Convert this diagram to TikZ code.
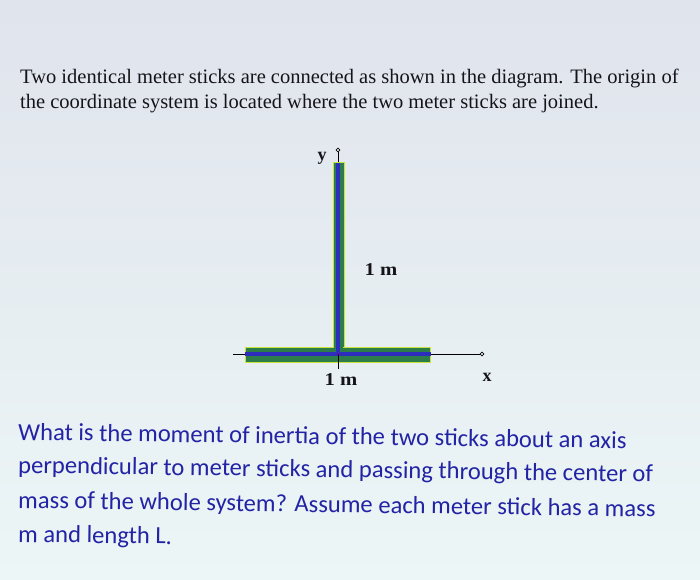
\documentclass[tikz,border=0pt]{standalone}
\usepackage{fontspec}
\setmainfont{Liberation Serif}
\newfontfamily\qfont{Carlito}
\definecolor{bgtop}{RGB}{224,228,237}
\definecolor{bgbot}{RGB}{236,246,246}
\definecolor{stickgreen}{RGB}{45,125,75}
\definecolor{stickedge}{RGB}{200,228,60}
\definecolor{stickblue}{RGB}{45,45,190}
\definecolor{qblue}{RGB}{35,35,165}
\definecolor{txtblack}{RGB}{20,20,25}
\tikzset{
  toptext/.style={anchor=base west, inner sep=0pt, text=txtblack, font=\fontsize{20.5}{23}\selectfont},
  qtext/.style={anchor=base west, inner sep=0pt, text=qblue, font=\qfont\fontsize{24.6}{28}\selectfont, rotate=-0.8},
  lbl/.style={inner sep=0pt, text=txtblack, font=\bfseries\fontsize{18}{20}\selectfont},
  stickbox/.style={fill=stickgreen, draw=stickedge, line width=1pt, inner sep=0pt},
  centreline/.style={draw=stickblue, line width=4.5pt},
  axisline/.style={draw=black, line width=0.9pt},
  axisend/.style={circle, draw=black, fill=white, line width=0.8pt, inner sep=1.3pt}
}
\begin{document}
\begin{tikzpicture}[x=1pt,y=-1pt]
\useasboundingbox (0,0) rectangle (700,579);
\shade[top color=bgtop, bottom color=bgbot] (0,0) rectangle (700,579);
% top text
\node[toptext] (t1) at (20,83) {Two identical meter sticks are connected as shown in the diagram. The origin of};
\node[toptext] (t2) at (20,108) {the coordinate system is located where the two meter sticks are joined.};
% axes
\coordinate (O) at (338,354);
\coordinate (ybot) at (338,369);
\coordinate (xleft) at (233,354);
\node[axisend] (yend) at (338,150) {};
\node[axisend] (xend) at (482,354) {};
\draw[axisline] (xleft) -- (xend);
\draw[axisline] (ybot) -- (yend);
% sticks
\node[stickbox, minimum width=11pt, minimum height=192pt] (vstick) at (338.5,258) {};
\node[stickbox, minimum width=185pt, minimum height=15pt] (hstick) at (337.5,354.5) {};
\fill[stickgreen] (333.7,346) rectangle (343.3,349);
\draw[centreline] (hstick.west |- O) -- (hstick.east |- O);
\draw[centreline] ([yshift=-1.5pt]vstick.north -| O) -- (O);
\draw[axisline] (O) -- (ybot);
\fill[violet] (O) circle (1.2pt);
% labels
\node[lbl] (ylab) at (322,158) {y};
\node[lbl] (vlen) at (381,270) {\scalebox{1.15}[1]{1 m}};
\node[lbl] (hlen) at (341,380) {\scalebox{1.15}[1]{1 m}};
\node[lbl] (xlab) at (487,377) {x};
% question text
\node[qtext] (q1) at (18,440) {What is the moment of inertia of the two sticks about an axis};
\node[qtext] (q2) at (18,473) {perpendicular to meter sticks and passing through the center of};
\node[qtext] (q3) at (18,508) {mass of the whole system? Assume each meter stick has a mass};
\node[qtext] (q4) at (18,542) {m and length L.};
\end{tikzpicture}
\end{document}
